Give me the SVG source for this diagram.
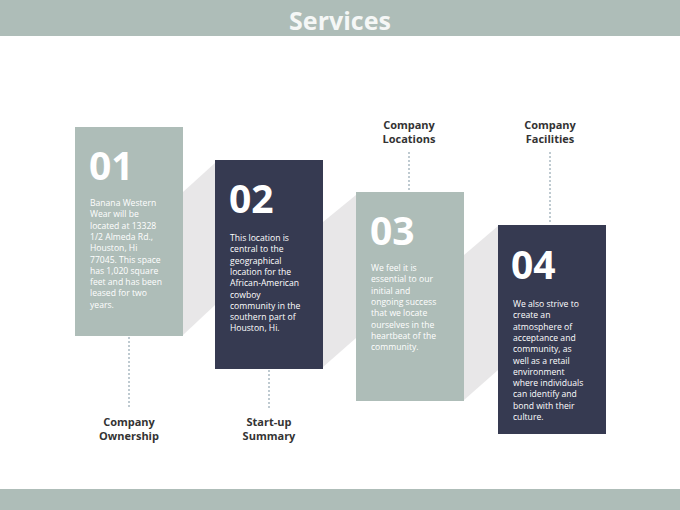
<svg xmlns="http://www.w3.org/2000/svg" width="680" height="510" viewBox="0 0 680 510">
<style>
.bar{fill:#aebdb8}
.light{fill:#aebdb8}
.dark{fill:#363a51}
.shadow{fill:#e8e7e8}
.num{font-family:"Open Sans","Noto Sans",sans-serif;font-weight:bold;font-size:39px;fill:#ffffff}
.body{font-family:"Open Sans","Noto Sans",sans-serif;font-size:8.6px;fill:#ffffff}
.lbl{font-family:"Open Sans","Noto Sans",sans-serif;font-weight:bold;font-size:11px;fill:#333333;text-anchor:middle}
.title{font-family:"Open Sans","Noto Sans",sans-serif;font-weight:bold;font-size:25px;fill:#f5f7f6;text-anchor:middle}
.dash{stroke:#7f95a2;stroke-width:1;stroke-dasharray:2 2;fill:none}
</style>
<rect width="680" height="510" fill="#ffffff"/>
<g id="header">
<rect class="bar" x="0" y="0" width="680" height="36"/>
<text class="title" x="340" y="30">Services</text>
</g>
<g id="footer">
<rect class="bar" x="0" y="489" width="680" height="21"/>
</g>
<g id="shadows">
<polygon class="shadow" points="183,192 215,163 215,305 183,335"/>
<polygon class="shadow" points="323,222 356,195 356,338 323,367"/>
<polygon class="shadow" points="464,255 498,226 498,370 464,400"/>
</g>
<g id="connectors">
<line class="dash" x1="129" y1="337" x2="129" y2="408"/>
<line class="dash" x1="269" y1="370" x2="269" y2="408"/>
<line class="dash" x1="409" y1="152" x2="409" y2="191"/>
<line class="dash" x1="550" y1="152" x2="550" y2="224"/>
</g>
<g id="node-01">
<rect class="light" x="75" y="127" width="108" height="209"/>
<text class="num" x="89" y="180">01</text>
<text class="body" x="90" y="206">
<tspan x="90" y="206">Banana Western</tspan>
<tspan x="90" dy="11.3">Wear will be</tspan>
<tspan x="90" dy="11.3">located at 13328</tspan>
<tspan x="90" dy="11.3">1/2 Almeda Rd.,</tspan>
<tspan x="90" dy="11.3">Houston, Hi</tspan>
<tspan x="90" dy="11.3">77045. This space</tspan>
<tspan x="90" dy="11.3">has 1,020 square</tspan>
<tspan x="90" dy="11.3">feet and has been</tspan>
<tspan x="90" dy="11.3">leased for two</tspan>
<tspan x="90" dy="11.3">years.</tspan>
</text>
</g>
<g id="node-02">
<rect class="dark" x="215" y="160" width="108" height="209"/>
<text class="num" x="229" y="213">02</text>
<text class="body" x="230" y="241">
<tspan x="230" y="241">This location is</tspan>
<tspan x="230" dy="11.3">central to the</tspan>
<tspan x="230" dy="11.3">geographical</tspan>
<tspan x="230" dy="11.3">location for the</tspan>
<tspan x="230" dy="11.3">African-American</tspan>
<tspan x="230" dy="11.3">cowboy</tspan>
<tspan x="230" dy="11.3">community in the</tspan>
<tspan x="230" dy="11.3">southern part of</tspan>
<tspan x="230" dy="11.3">Houston, Hi.</tspan>
</text>
</g>
<g id="node-03">
<rect class="light" x="356" y="192" width="108" height="209"/>
<text class="num" x="370" y="245">03</text>
<text class="body" x="371" y="271">
<tspan x="371" y="271">We feel it is</tspan>
<tspan x="371" dy="11.3">essential to our</tspan>
<tspan x="371" dy="11.3">initial and</tspan>
<tspan x="371" dy="11.3">ongoing success</tspan>
<tspan x="371" dy="11.3">that we locate</tspan>
<tspan x="371" dy="11.3">ourselves in the</tspan>
<tspan x="371" dy="11.3">heartbeat of the</tspan>
<tspan x="371" dy="11.3">community.</tspan>
</text>
</g>
<g id="node-04">
<rect class="dark" x="498" y="225" width="108" height="209"/>
<text class="num" x="511" y="279">04</text>
<text class="body" x="513" y="307">
<tspan x="513" y="307">We also strive to</tspan>
<tspan x="513" dy="11.3">create an</tspan>
<tspan x="513" dy="11.3">atmosphere of</tspan>
<tspan x="513" dy="11.3">acceptance and</tspan>
<tspan x="513" dy="11.3">community, as</tspan>
<tspan x="513" dy="11.3">well as a retail</tspan>
<tspan x="513" dy="11.3">environment</tspan>
<tspan x="513" dy="11.3">where individuals</tspan>
<tspan x="513" dy="11.3">can identify and</tspan>
<tspan x="513" dy="11.3">bond with their</tspan>
<tspan x="513" dy="11.3">culture.</tspan>
</text>
</g>
<g id="label-ownership">
<text class="lbl" x="129" y="426">Company</text>
<text class="lbl" x="129" y="440">Ownership</text>
</g>
<g id="label-startup">
<text class="lbl" x="269" y="426">Start-up</text>
<text class="lbl" x="269" y="440">Summary</text>
</g>
<g id="label-locations">
<text class="lbl" x="409" y="129">Company</text>
<text class="lbl" x="409" y="143">Locations</text>
</g>
<g id="label-facilities">
<text class="lbl" x="550" y="129">Company</text>
<text class="lbl" x="550" y="143">Facilities</text>
</g>
</svg>
